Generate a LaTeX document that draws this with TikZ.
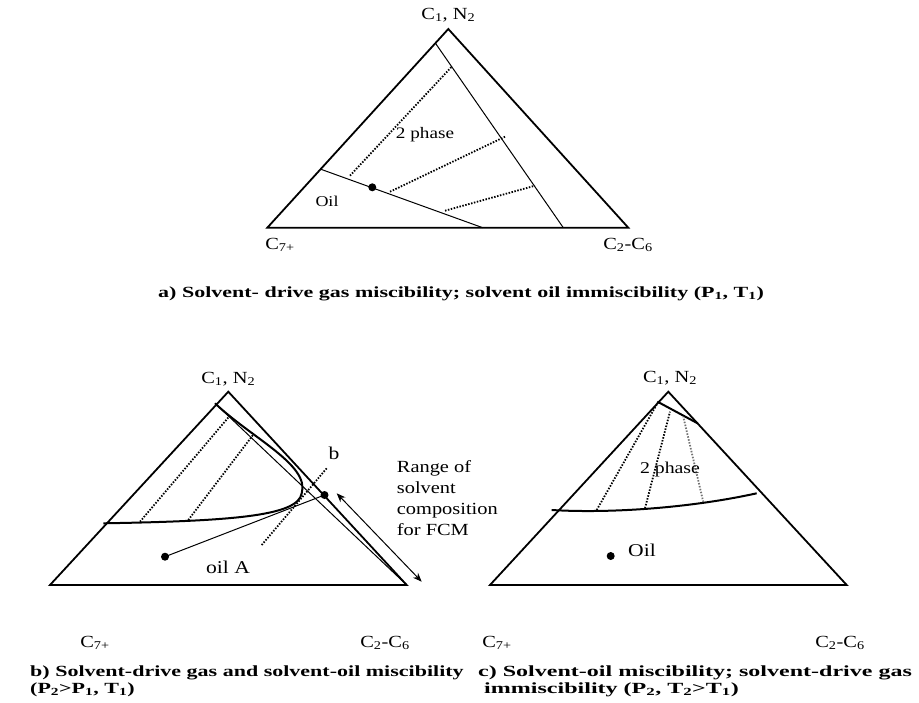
\documentclass[tikz,border=0pt]{standalone}
\usepackage{fontspec}
\setmainfont[FakeStretch=1.2]{Liberation Serif}
\newfontfamily\capfont[FakeStretch=1.42]{Liberation Serif}
\newfontfamily\capwidefont[FakeStretch=1.55]{Liberation Serif}
\usetikzlibrary{arrows.meta}
\begin{document}
\begin{tikzpicture}[x=1pt,y=-1pt,
  edge/.style={line width=1.8pt, line join=miter},
  fine/.style={line width=1pt},
  bincurve/.style={line width=2pt},
  dotline/.style={line width=1.8pt, dash pattern=on 1.5pt off 1.5pt},
  greydot/.style={dotline, draw=black!55},
  lbl/.style={font=\fontsize{17}{20}\selectfont, inner sep=0pt},
  inlbl/.style={font=\fontsize{16}{18}\selectfont, inner sep=0pt},
  biglbl/.style={font=\fontsize{18}{21}\selectfont, inner sep=0pt},
  capt/.style={font=\capfont\bfseries\fontsize{15.5}{17}\selectfont, inner sep=0pt, anchor=west, align=left},
  blob/.style={circle, fill=black, inner sep=0pt, minimum size=8pt}]
\useasboundingbox (0,0) rectangle (919,702);

% ---------------- (a) ----------------
\coordinate (aT) at (448.3,29);
\coordinate (aL) at (267.3,227.7);
\coordinate (aR) at (628.3,227.7);
\draw[edge] (aT) -- (aL) -- (aR) -- cycle;
\coordinate (a1s) at (435.5,43.3);
\coordinate (a1e) at (563.3,227.7);
\draw[fine] (a1s) -- (a1e);
\coordinate (a2s) at (321,169.3);
\coordinate (a2e) at (482.7,227.7);
\draw[fine] (a2s) -- (a2e);
\coordinate (ad1s) at (350,175.7);  \coordinate (ad1e) at (451.7,66.7);
\coordinate (ad2s) at (390,191.7);  \coordinate (ad2e) at (505,136.7);
\coordinate (ad3s) at (445,210.7);  \coordinate (ad3e) at (535,185.7);
\draw[dotline] (ad1s) -- (ad1e);
\draw[dotline] (ad2s) -- (ad2e);
\draw[dotline] (ad3s) -- (ad3e);
\node[blob] (adot) at (372.3,187.3) {};
\node[inlbl] (a2ph) at (425,135) {2 phase};
\node[inlbl, font=\fontsize{15}{17}\selectfont] (aoil) at (327,201.5) {Oil};
\node[lbl] (atop) at (448.3,15) {C\textsubscript{1}, N\textsubscript{2}};
\node[lbl] (aleft) at (280,245) {C\textsubscript{7+}};
\node[lbl] (aright) at (628,245) {C\textsubscript{2}-C\textsubscript{6}};
\node[capt] (acap) at (158,294) {a) Solvent- drive gas miscibility; solvent oil immiscibility (P\textsubscript{1}, T\textsubscript{1})};

% ---------------- (b) ----------------
\coordinate (bT) at (228.3,391.7);
\coordinate (bL) at (50,585);
\coordinate (bR) at (406.7,585);
\draw[edge] (bT) -- (bL) -- (bR) -- cycle;
\coordinate (bs) at (215,403.3);
\draw[fine] (bs) -- (bR);
\node[blob] (bdot) at (324.5,495) {};
\node[blob] (oilA) at (165,556.7) {};
\draw[fine] (oilA.center) -- (bdot.center);
\coordinate (btip) at (301.7,493.3);
\coordinate (bend) at (103.3,523.3);
\draw[bincurve] (bs) .. controls (252,438.3) and (310,465) .. (btip)
                     .. controls (298,515) and (240,521) .. (bend);
\coordinate (bd1s) at (140,521.7);  \coordinate (bd1e) at (229,416.7);
\coordinate (bd2s) at (188.3,520);  \coordinate (bd2e) at (253,435);
\coordinate (bd3s) at (261.7,545);  \coordinate (bd3e) at (326.7,468.3);
\draw[dotline] (bd1s) -- (bd1e);
\draw[dotline] (bd2s) -- (bd2e);
\draw[dotline] (bd3s) -- (bd3e);
\node[biglbl] (blab) at (334,453) {b};
\node[biglbl] (boil) at (228,567) {oil A};
\coordinate (ar1) at (336.7,493.3);
\coordinate (ar2) at (421.7,581.7);
\draw[line width=1pt, {Stealth[length=9pt,width=7pt]}-{Stealth[length=9pt,width=7pt]}] (ar1) -- (ar2);
\node[biglbl, anchor=north west, align=left, font=\fontsize{17}{21.2}\selectfont] (range) at (396.7,460)
  {Range of\\solvent\\composition\\for FCM};
\node[lbl] (btop) at (228.3,379) {C\textsubscript{1}, N\textsubscript{2}};
\node[lbl] (bleft) at (95,643) {C\textsubscript{7+}};
\node[lbl] (bright) at (385,643) {C\textsubscript{2}-C\textsubscript{6}};
\node[capt] (bcap) at (30,681) {b) Solvent-drive gas and solvent-oil miscibility\\(P\textsubscript{2}>P\textsubscript{1}, T\textsubscript{1})};

% ---------------- (c) ----------------
\coordinate (cT) at (668.3,391.7);
\coordinate (cL) at (490,585);
\coordinate (cR) at (846.7,585);
\draw[edge] (cT) -- (cL) -- (cR) -- cycle;
\coordinate (cs1) at (657.5,401.7);
\coordinate (cs2) at (698,423.5);
\draw[bincurve] (cs1) -- (cs2);
\coordinate (cb1) at (551.7,510);
\coordinate (cb2) at (756.7,493.3);
\draw[bincurve] (cb1) .. controls (610,513.5) and (690,508) .. (cb2);
\coordinate (cd1s) at (596.7,510);  \coordinate (cd1e) at (658.3,401.7);
\coordinate (cd2s) at (645,508.3);  \coordinate (cd2e) at (670,411.7);
\coordinate (cd3s) at (703.3,502);  \coordinate (cd3e) at (683.3,416.7);
\draw[dotline] (cd1s) -- (cd1e);
\draw[dotline] (cd2s) -- (cd2e);
\draw[greydot] (cd3s) -- (cd3e);
\node[biglbl, font=\fontsize{16.5}{20}\selectfont] (c2ph) at (670,470) {2 phase};
\node[blob] (cdot) at (610.7,556) {};
\node[biglbl] (coil) at (642,550) {Oil};
\node[lbl] (ctop) at (670,378) {C\textsubscript{1}, N\textsubscript{2}};
\node[lbl] (cleft) at (497,643) {C\textsubscript{7+}};
\node[lbl] (cright) at (840,643) {C\textsubscript{2}-C\textsubscript{6}};
\node[capt, font=\capwidefont\bfseries\fontsize{15.5}{17}\selectfont] (ccap) at (478,681) {c) Solvent-oil miscibility; solvent-drive gas\\\ immiscibility (P\textsubscript{2}, T\textsubscript{2}>T\textsubscript{1})};
\end{tikzpicture}
\end{document}
